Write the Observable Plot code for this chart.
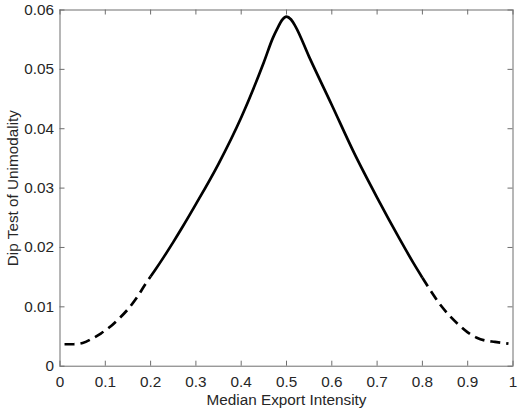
<!DOCTYPE html>
<html>
<head>
<meta charset="utf-8">
<script src="https://cdn.jsdelivr.net/npm/d3@7"></script>
<script src="https://cdn.jsdelivr.net/npm/@observablehq/plot@0.6"></script>
<style>
  html, body { margin: 0; padding: 0; background: #fff; }
  svg { display: block; }
</style>
</head>
<body>
<div id="chart"></div>
<script>
// Median export intensity (x) and dip test statistic (y)
const xs = [0.01, 0.03, 0.05, 0.07, 0.09, 0.11, 0.13, 0.15, 0.17, 0.19, 0.20,
            0.21, 0.23, 0.25, 0.27, 0.30, 0.35, 0.40, 0.45, 0.47, 0.48, 0.49, 0.50, 0.51, 0.52, 0.55,
            0.60, 0.65, 0.70, 0.75, 0.78, 0.80,
            0.82, 0.84, 0.86, 0.88, 0.90, 0.92, 0.94, 0.96, 0.98, 0.99];
const ys = [0.0037, 0.0037, 0.0039, 0.0046, 0.0055, 0.0066, 0.0080, 0.0096, 0.0116, 0.0140, 0.0151,
            0.0162, 0.0185, 0.0209, 0.0234, 0.0273, 0.0341, 0.0419, 0.0512, 0.0553, 0.0569, 0.0583, 0.0589, 0.0584, 0.0572, 0.0521,
            0.0440, 0.0358, 0.0284, 0.0214, 0.0174, 0.0149,
            0.0125, 0.0103, 0.0085, 0.0070, 0.0057, 0.0048, 0.0043, 0.0041, 0.0039, 0.0038];
const solidFrom = 0.20, solidTo = 0.80;
const xTicks = [0, 0.1, 0.2, 0.3, 0.4, 0.5, 0.6, 0.7, 0.8, 0.9, 1];
const yTicks = [0, 0.01, 0.02, 0.03, 0.04, 0.05, 0.06];
const xLabel = "Median Export Intensity";
const yLabel = "Dip Test of Unimodality";

const data = xs.map((x, i) => ({x, y: ys[i]}));
const leftDash = data.filter(d => d.x <= solidFrom);
const solid = data.filter(d => d.x >= solidFrom && d.x <= solidTo);
const rightDash = data.filter(d => d.x >= solidTo);

const W = 520, H = 410;
const mL = 59.5, mR = 7.5, mT = 9.5, mB = 44.3;
const innerH = H - mT - mB, innerW = W - mL - mR;
const tick = 5;
const axisColor = "#6e6e6e";
const textColor = "#262626";
const lineStyle = {x: "x", y: "y", stroke: "black", strokeWidth: 2.7, strokeLinecap: "butt", strokeLinejoin: "round", curve: "monotone-x"};

const chart = Plot.plot({
  width: W, height: H,
  marginLeft: mL, marginRight: mR, marginTop: mT, marginBottom: mB,
  style: {fontFamily: "'Liberation Sans', Arial, Helvetica, sans-serif", fontSize: "15.3px", color: textColor, background: "white"},
  x: {domain: [0, 1]},
  y: {domain: [0, 0.06]},
  marks: [
    Plot.line(leftDash, {...lineStyle, strokeDasharray: "10,6"}),
    Plot.line(solid, lineStyle),
    Plot.line(rightDash, {...lineStyle, strokeDasharray: "10,6"}),
    Plot.frame({stroke: axisColor, strokeWidth: 1}),
    Plot.tickX(xTicks, {x: d => d, stroke: axisColor, insetTop: innerH - tick}),
    Plot.tickX(xTicks, {x: d => d, stroke: axisColor, insetBottom: innerH - tick}),
    Plot.tickY(yTicks, {y: d => d, stroke: axisColor, insetRight: innerW - tick}),
    Plot.tickY(yTicks, {y: d => d, stroke: axisColor, insetLeft: innerW - tick}),
    Plot.axisX(xTicks, {anchor: "bottom", tickSize: 0, tickPadding: 10, tickFormat: d => String(+d.toFixed(1)), fill: textColor,
      label: xLabel, labelAnchor: "center", labelArrow: "none", labelOffset: 39}),
    Plot.axisY(yTicks, {anchor: "left", tickSize: 0, tickPadding: 6, tickFormat: d => String(+d.toFixed(2)), fill: textColor,
      label: yLabel, labelAnchor: "center", labelArrow: "none", labelOffset: 53})
  ]
});
document.getElementById("chart").appendChild(chart);
</script>
</body>
</html>
